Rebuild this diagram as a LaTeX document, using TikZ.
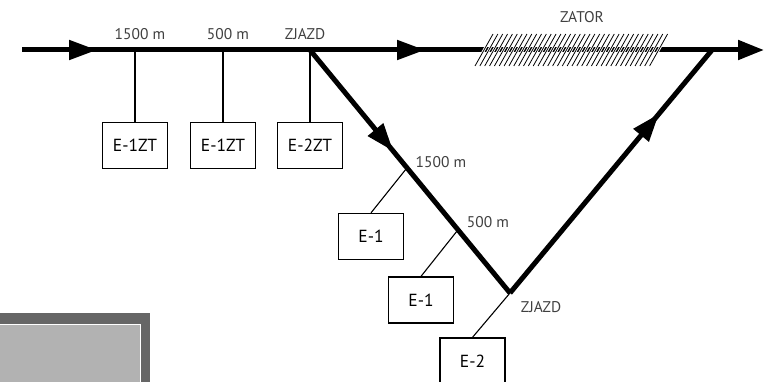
\documentclass[tikz,border=0pt]{standalone}
\usepackage{fontspec}
\setmainfont{PT Sans}
\usepackage{xcolor}
\usetikzlibrary{arrows.meta, decorations.markings, positioning, calc}

\tikzset{
  road/.style={line width=5pt},
  midarrow/.style={postaction={decorate, decoration={markings,
      mark=at position #1 with {\arrow{Triangle[length=28pt,width=19pt]}}}}},
  det/.style={draw, line width=1.3pt, minimum width=65pt, minimum height=46pt,
      inner sep=0pt, font=\fontsize{17.5}{19}\selectfont},
  wire/.style={line width=1.1pt},
  lbl/.style={text=black!75, inner sep=0pt, font=\fontsize{15.5}{17}\selectfont},
  hatch/.style={line width=0.8pt, preaction={draw=white, line width=2.6pt}},
}

\begin{document}
\begin{tikzpicture}[x=1pt, y=-1pt]
  \useasboundingbox (0,0) rectangle (764,382);

  % gray panel
  \fill[black!60] (-5,313) rectangle (150,390);
  \fill[black!30] (-5,324) rectangle (140,390);
  \draw[white, line width=0.8pt] (-5,324) -- (140,324) -- (140,390);

  % road points
  \coordinate (in) at (22,50);
  \coordinate (J1) at (310,50);
  \coordinate (J2) at (712,50);
  \coordinate (out) at (764,50);
  \coordinate (V) at (510,293);
  \coordinate (t1) at (135,50);
  \coordinate (t2) at (223,50);
  \coordinate (t4) at ($(J1)!0.485!(V)$);
  \coordinate (t5) at ($(J1)!0.74!(V)$);

  % roads
  \draw[road, -{Triangle[length=26pt,width=19pt]}, midarrow=75pt, midarrow=403pt]
    (in) -- (J1) -- (J2) -- (out);
  \draw[road, midarrow=131pt] (J1) -- (V);
  \draw[road, midarrow=233pt] (V) -- (J2);

  % blockage
  \foreach \i in {0,...,36}
    \draw[hatch] (475+\i*4.85,66) -- (493+\i*4.85,34);
  \node[lbl] (zator) at (582,17) {ZATOR};

  % detectors on the main road
  \node[det, below=72pt of t1] (d1) {E-1ZT};
  \node[det, below=72pt of t2] (d2) {E-1ZT};
  \node[det, below=72pt of J1] (d3) {E-2ZT};
  \node[lbl] (l1) at (140,34) {1500 m};
  \node[lbl] (l2) at (228,34) {500 m};
  \node[lbl] (l3) at (305,34) {ZJAZD};

  % detectors on the exit
  \node[det] (d4) at (371,236.5) {E-1};
  \node[det] (d5) at (421,300) {E-1};
  \node[det] (d6) at (472.5,361) {E-2};
  \node[lbl] (l4) at (441,162) {1500 m};
  \node[lbl] (l5) at (488,222) {500 m};
  \node[lbl] (l6) at (541,307) {ZJAZD};

  \path[wire]
    (t1) edge (d1)
    (t2) edge (d2)
    (J1) edge (d3)
    (t4) edge (d4.north)
    (t5) edge (d5.north)
    (V) edge (d6.north);
\end{tikzpicture}
\end{document}
